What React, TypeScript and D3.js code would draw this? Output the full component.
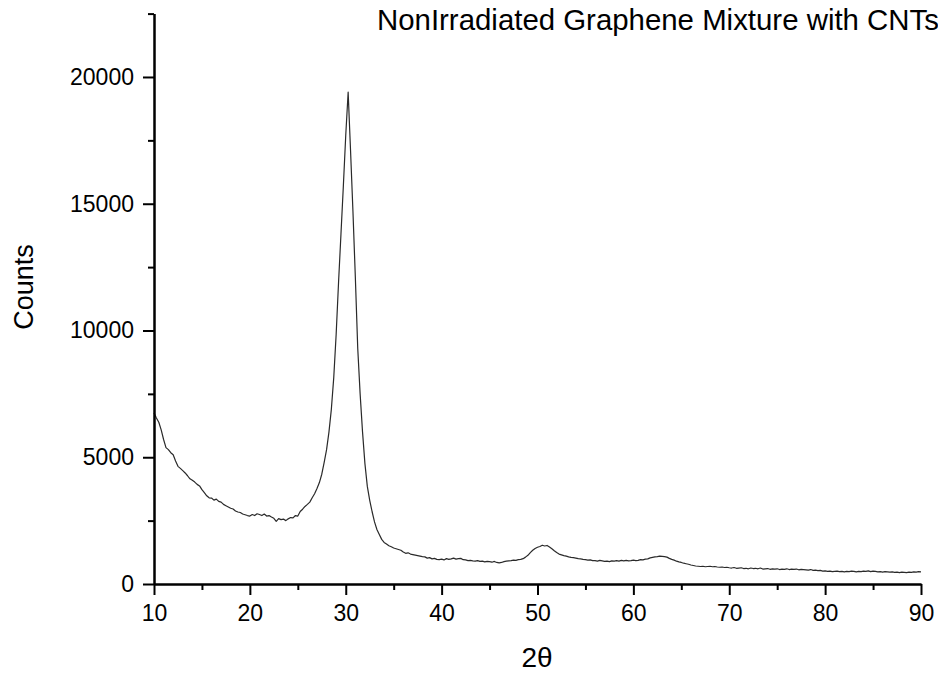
import React, { useRef, useEffect } from 'react';
import * as d3 from 'd3';

// XRD scan, sampled every 0.25 deg from 10 to 90
const thetaStart = 10;
const thetaStep = 0.25;
const counts = [
  6750, 6550, 6380, 6080, 5700, 5380, 5300, 5180, 5100, 4850, 4640, 4560, 4470, 4380, 4270, 4150,
  4090, 4020, 3930, 3870, 3720, 3600, 3480, 3400, 3390, 3310, 3350, 3260, 3230, 3140, 3090, 3040,
  2990, 2960, 2880, 2840, 2820, 2760, 2730, 2700, 2680, 2740, 2700, 2770, 2740, 2700, 2760, 2680,
  2700, 2640, 2590, 2470, 2580, 2540, 2560, 2500, 2570, 2620, 2610, 2700, 2680, 2860, 2950, 3060,
  3140, 3230, 3400, 3560, 3770, 4000, 4330, 4800, 5300, 6000, 6900, 8150, 9850, 11900, 13800, 15700,
  17700, 19400, 17100, 14700, 12100, 9300, 7500, 6000, 4750, 3850, 3300, 2850, 2450, 2150, 1950, 1760,
  1640, 1580, 1510, 1470, 1420, 1390, 1360, 1330, 1260, 1210, 1230, 1180, 1160, 1140, 1120, 1100,
  1080, 1070, 1020, 1040, 990, 1010, 970, 960, 980, 950, 1000, 970, 990, 1020, 980, 1000,
  1010, 960, 950, 920, 930, 910, 900, 920, 890, 900, 870, 890, 880, 860, 890, 850,
  830, 850, 880, 900, 910, 920, 940, 930, 960, 970, 1000, 1060, 1130, 1240, 1330, 1400,
  1450, 1480, 1530, 1500, 1520, 1460, 1390, 1310, 1240, 1180, 1150, 1120, 1100, 1070, 1050, 1040,
  1020, 1000, 990, 970, 960, 940, 950, 920, 920, 900, 930, 910, 890, 900, 880, 910,
  900, 920, 900, 930, 910, 930, 910, 920, 940, 920, 930, 960, 950, 980, 990, 1030,
  1050, 1070, 1080, 1100, 1090, 1080, 1060, 1010, 970, 940, 900, 870, 850, 820, 800, 780,
  750, 730, 710, 700, 690, 700, 680, 690, 700, 680, 690, 670, 660, 670, 650, 660,
  640, 630, 650, 620, 630, 640, 610, 620, 600, 630, 610, 620, 600, 630, 590, 600,
  610, 580, 600, 590, 600, 570, 590, 580, 600, 570, 590, 580, 590, 560, 580, 570,
  560, 550, 570, 540, 550, 530, 540, 510, 520, 500, 510, 490, 500, 510, 490, 500,
  480, 500, 490, 510, 500, 480, 500, 490, 510, 500, 520, 490, 510, 500, 480, 490,
  470, 490, 480, 470, 480, 460, 470, 450, 470, 460, 450, 470, 460, 480, 470, 490,
  480,
];

const xMajorTicks = [10, 20, 30, 40, 50, 60, 70, 80, 90];
const xMinorTicks = [15, 25, 35, 45, 55, 65, 75, 85];
const yMajorTicks = [0, 5000, 10000, 15000, 20000];
const yMinorTicks = [2500, 7500, 12500, 17500, 22500];

const title = 'NonIrradiated Graphene Mixture with CNTs';
const xLabel = '2θ';
const yLabel = 'Counts';

const W = 938;
const H = 675;
const FONT = '"Liberation Sans", Arial, sans-serif';

const App = () => {
  const ref = useRef<SVGSVGElement>(null);

  useEffect(() => {
    const svg = d3.select(ref.current);
    svg.selectAll('*').remove();

    const x = d3.scaleLinear().domain([10, 90]).range([154, 921]);
    const y = d3.scaleLinear().domain([0, 22500]).range([584, 13.6]);

    const data = counts.map((c, i) => ({ t: thetaStart + i * thetaStep, c }));

    const line = d3.line<{ t: number; c: number }>()
      .x(d => x(d.t))
      .y(d => y(d.c));

    svg.append('path')
      .datum(data)
      .attr('d', line)
      .attr('fill', 'none')
      .attr('stroke', '#2a2a2a')
      .attr('stroke-width', 1.2)
      .attr('stroke-linejoin', 'round');

    const styleAxis = (g: any) => {
      g.select('.domain').attr('stroke', '#000').attr('stroke-width', 2);
      g.selectAll('.tick line').attr('stroke', '#000').attr('stroke-width', 2);
      g.selectAll('.tick text')
        .attr('fill', '#000')
        .style('font-family', FONT)
        .style('font-size', '23px');
    };

    // x axis
    svg.append('g')
      .attr('transform', 'translate(0,584)')
      .call(d3.axisBottom(x).tickValues(xMinorTicks).tickSize(6).tickSizeOuter(0).tickFormat(() => ''))
      .call(styleAxis);
    svg.append('g')
      .attr('transform', 'translate(0,584)')
      .call(d3.axisBottom(x).tickValues(xMajorTicks).tickSize(11).tickSizeOuter(0).tickPadding(10).tickFormat(d3.format('d')))
      .call(styleAxis);

    // y axis
    svg.append('g')
      .attr('transform', 'translate(154,0)')
      .call(d3.axisLeft(y).tickValues(yMinorTicks).tickSize(6).tickSizeOuter(0).tickFormat(() => ''))
      .call(styleAxis);
    svg.append('g')
      .attr('transform', 'translate(154,0)')
      .call(d3.axisLeft(y).tickValues(yMajorTicks).tickSize(11).tickSizeOuter(0).tickPadding(9).tickFormat(d3.format('d')))
      .call(styleAxis);

    // title runs past the right edge, as in the original
    svg.append('text')
      .attr('x', 377)
      .attr('y', 30)
      .attr('fill', '#000')
      .style('font-family', FONT)
      .style('font-size', '29.4px')
      .text(title);

    svg.append('text')
      .attr('x', 537)
      .attr('y', 667)
      .attr('text-anchor', 'middle')
      .attr('fill', '#000')
      .style('font-family', FONT)
      .style('font-size', '28px')
      .text(xLabel);

    svg.append('text')
      .attr('transform', 'translate(33,287) rotate(-90)')
      .attr('text-anchor', 'middle')
      .attr('fill', '#000')
      .style('font-family', FONT)
      .style('font-size', '27px')
      .text(yLabel);
  }, []);

  return (
    <svg
      ref={ref}
      width={W}
      height={H}
      style={{ position: 'absolute', left: 0, top: 0, background: '#fff' }}
    />
  );
};

export default App;
